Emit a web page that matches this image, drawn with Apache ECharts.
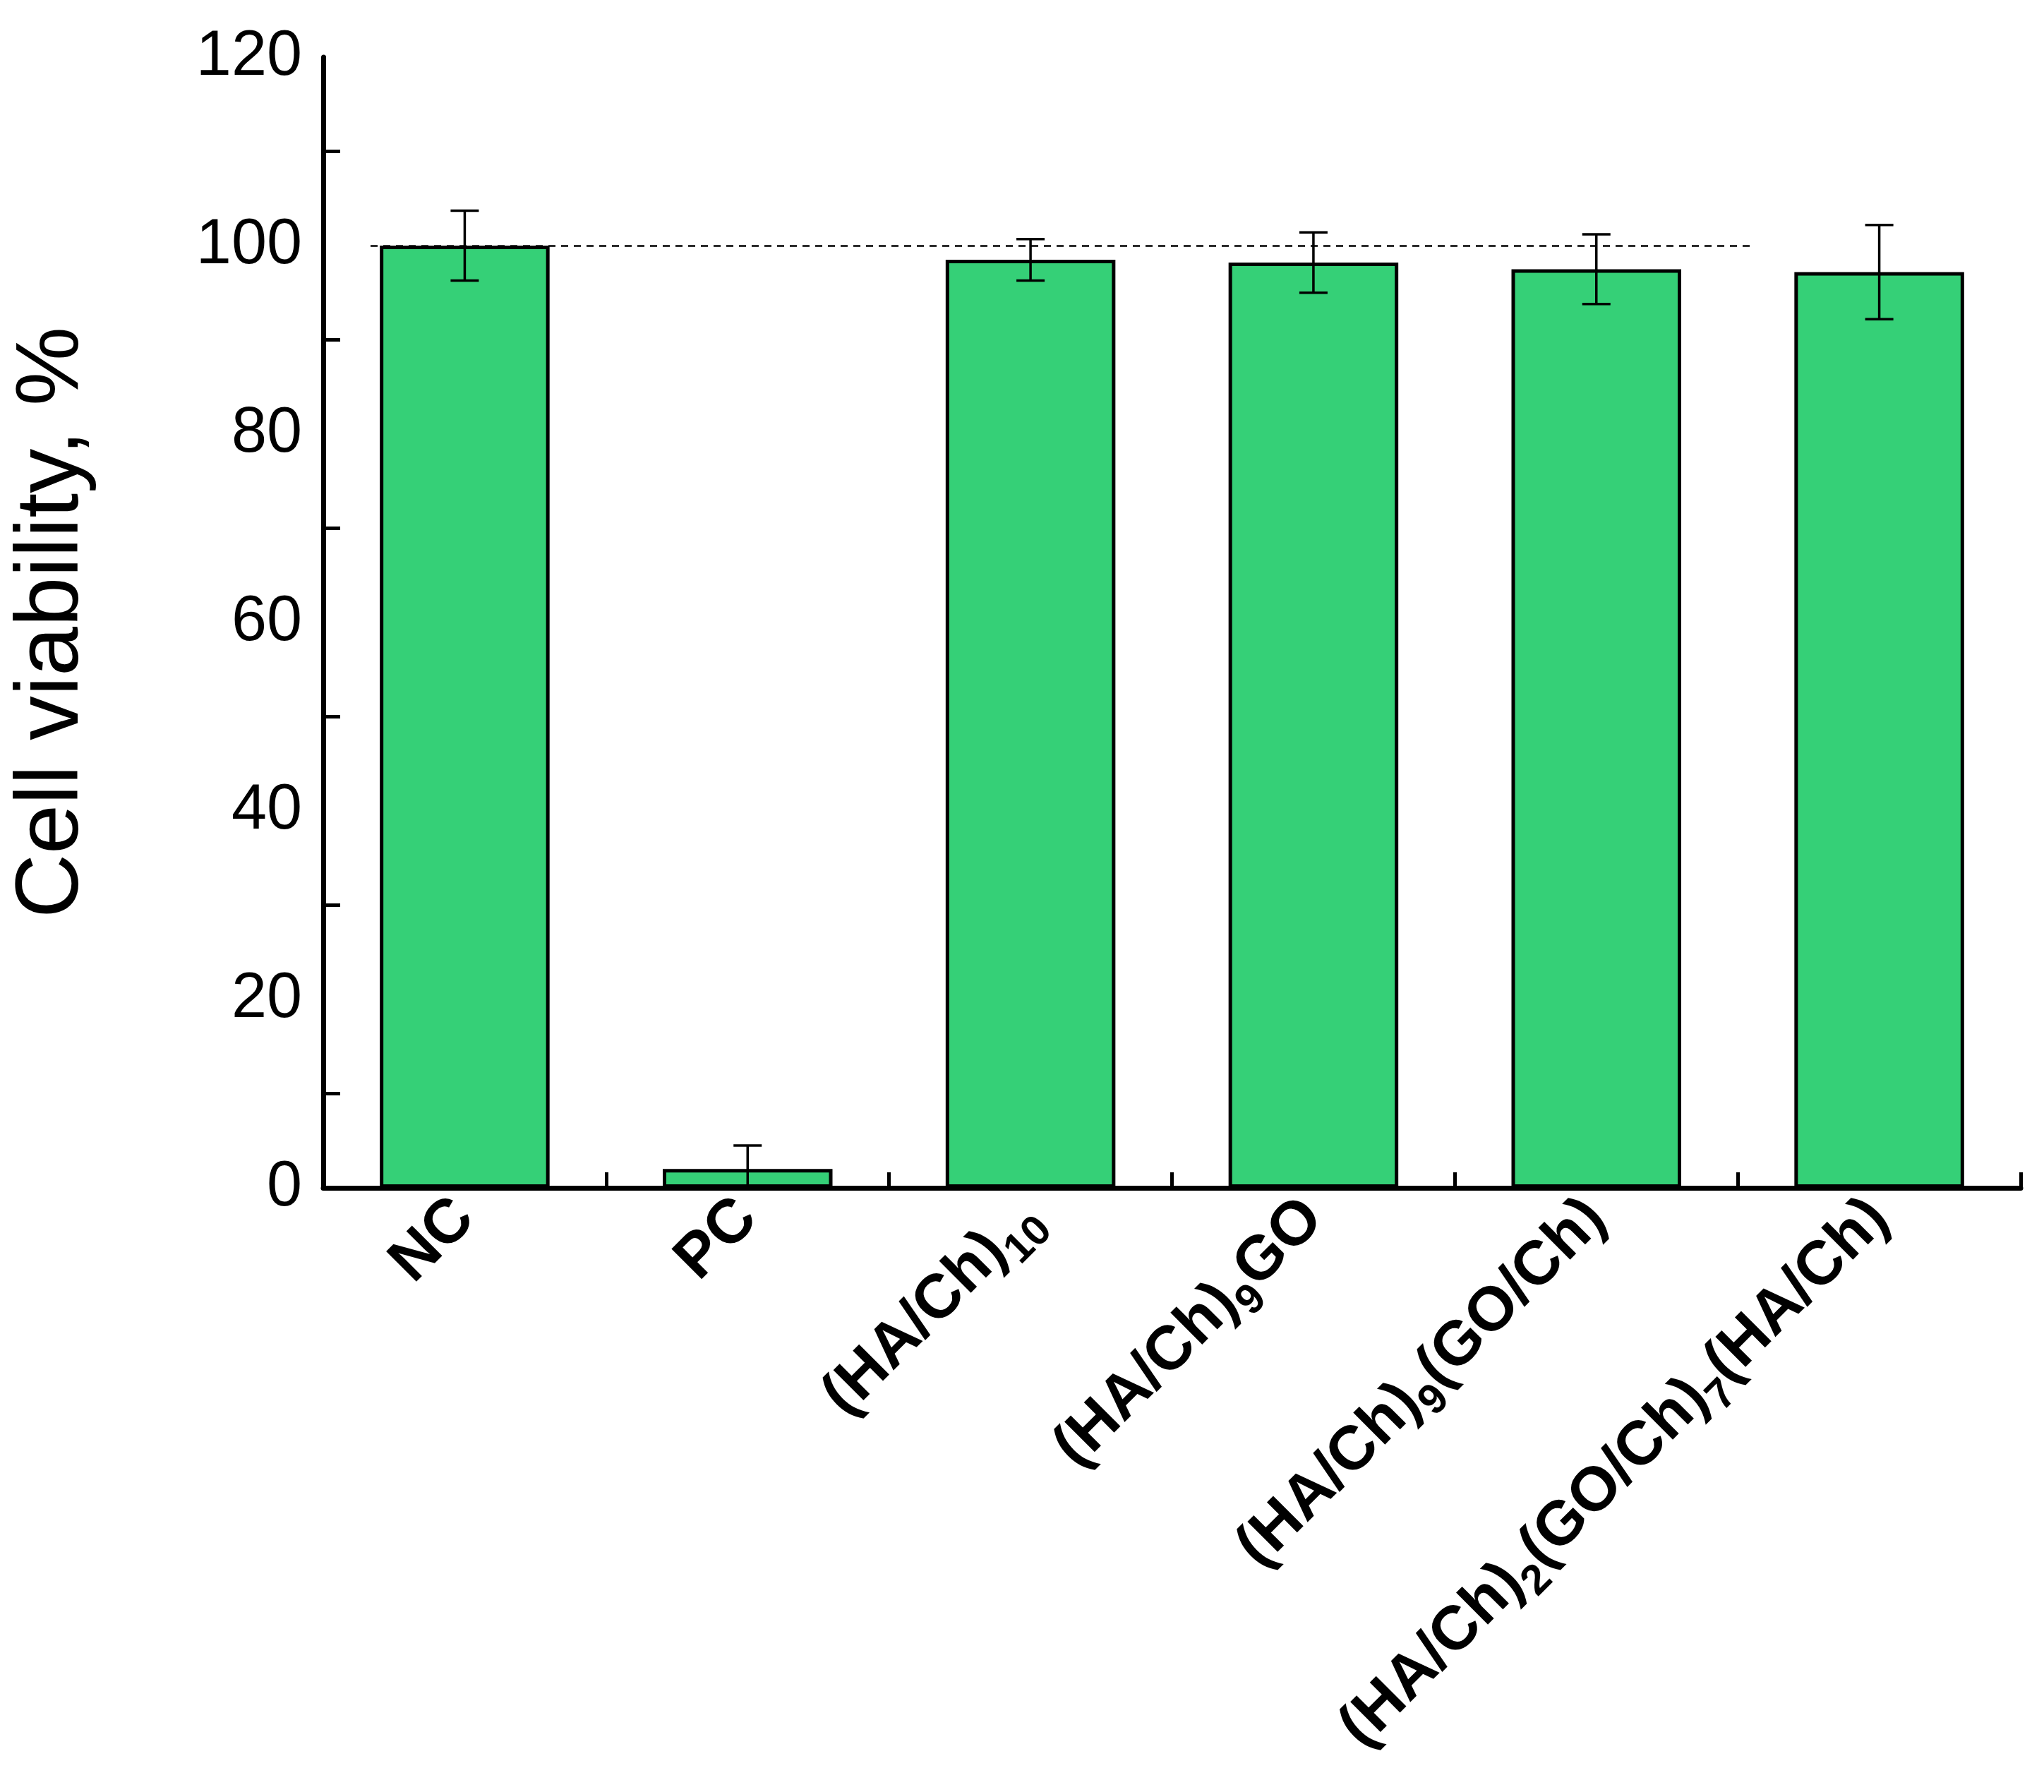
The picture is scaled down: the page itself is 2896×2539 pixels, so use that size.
<!DOCTYPE html>
<html>
<head>
<meta charset="utf-8">
<script src="https://cdn.jsdelivr.net/npm/echarts@6/dist/echarts.min.js"></script>
</head>
<body style="margin:0;background:#fff">
<div id="main" style="width:2896px;height:2539px;"></div>
<script>
var categories = ['NC', 'PC', '(HA/Ch){s|10}', '(HA/Ch){s|9}GO', '(HA/Ch){s|9}(GO/Ch)', '(HA/Ch){s|2}(GO/Ch){s|7}(HA/Ch)'];
var viability = [100, 2, 98.5, 98.2, 97.5, 97.2];
var errors = [3.7, 2.5, 2.2, 3.2, 3.7, 5.0];
var refLine = 100;

var myChart = echarts.init(document.getElementById('main'));

var option = {
    animation: false,
    grid: {left: 458, right: 33, top: 81, bottom: 856},
    xAxis: {
        type: 'category',
        data: categories,
        axisLine: {lineStyle: {color: '#000', width: 7}},
        axisTick: {show: true, inside: true, length: 22, lineStyle: {color: '#000', width: 5}},
        axisLabel: {
            rotate: 45, interval: 0, margin: 30, color: '#000',
            fontFamily: 'Liberation Sans, Arial', fontWeight: 'bold', fontSize: 88,
            rich: {s: {fontSize: 60, fontWeight: 'bold', fontFamily: 'Liberation Sans, Arial', padding: [60, 0, 0, 0], color: '#000'}}
        }
    },
    yAxis: {
        type: 'value', min: 0, max: 120, interval: 20,
        name: 'Cell viability, %', nameLocation: 'middle', nameGap: 320,
        nameTextStyle: {fontSize: 126, fontFamily: 'Liberation Sans, Arial', color: '#000'},
        splitLine: {show: false},
        axisLine: {show: true, lineStyle: {color: '#000', width: 7}},
        axisTick: {inside: true, length: 42, lineStyle: {color: '#000', width: 5}},
        minorTick: {show: true, splitNumber: 2, length: 24, lineStyle: {color: '#000', width: 5}},
        axisLabel: {fontSize: 90, color: '#000', fontFamily: 'Liberation Sans, Arial', margin: 30}
    },
    series: [
        {
            type: 'bar', data: viability, barWidth: '60%',
            itemStyle: {color: '#35d077', borderColor: '#000', borderWidth: 5},
            markLine: {
                symbol: 'none', silent: true, label: {show: false},
                lineStyle: {color: '#000', type: [10, 8], width: 2.5},
                data: [[{coord: [0, refLine], x: 525}, {coord: [4, refLine], x: 2484}]]
            }
        },
        {
            type: 'custom',
            data: viability.map(function (v, i) { return [i, v, errors[i]]; }),
            renderItem: function (params, api) {
                var i = api.value(0), v = api.value(1), e = api.value(2);
                var hi = api.coord([i, v + e]), lo = api.coord([i, Math.max(v - e, 0)]);
                var w = 20, st = {stroke: '#000', lineWidth: 3.5};
                return {type: 'group', children: [
                    {type: 'line', shape: {x1: hi[0], y1: hi[1], x2: lo[0], y2: lo[1]}, style: st},
                    {type: 'line', shape: {x1: hi[0] - w, y1: hi[1], x2: hi[0] + w, y2: hi[1]}, style: st},
                    {type: 'line', shape: {x1: lo[0] - w, y1: lo[1], x2: lo[0] + w, y2: lo[1]}, style: st}
                ]};
            },
            z: 10
        }
    ]
};
myChart.setOption(option);
</script>
</body>
</html>
